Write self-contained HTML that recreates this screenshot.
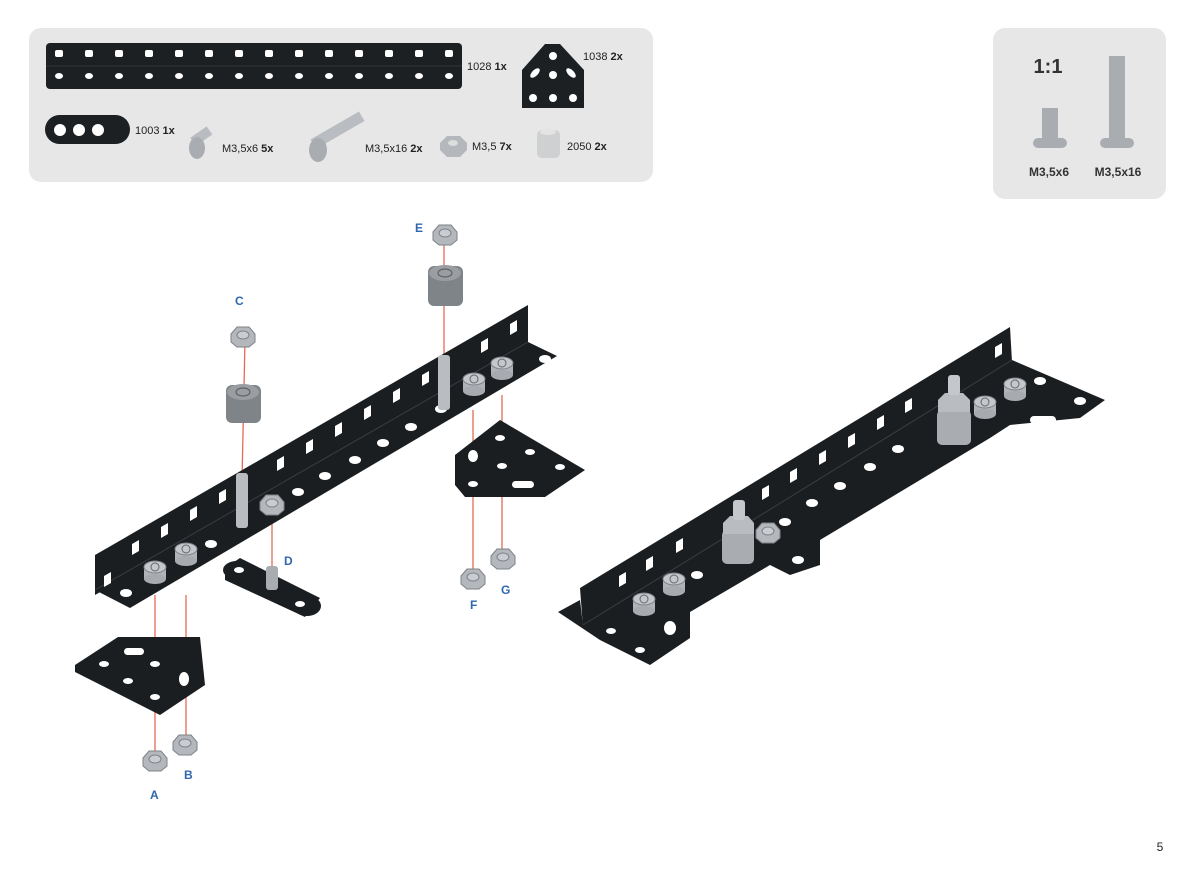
<!DOCTYPE html>
<html><head><meta charset="utf-8"><style>
body{margin:0;background:#fff;}
svg{display:block;font-family:"Liberation Sans",sans-serif;}
</style></head><body>
<svg width="1200" height="888" viewBox="0 0 1200 888" xmlns="http://www.w3.org/2000/svg">
<defs>
<g id="nut"><polygon points="-12,-4 -6,-11 6,-11 12,-4 12,4 6,9 -6,9 -12,4" fill="#b4b8bd" stroke="#7d8288" stroke-width="1"/><ellipse cx="0" cy="-3" rx="6" ry="4" fill="#c9ccd0" stroke="#7d8288"/></g>
<g id="bolt"><rect x="-11" y="-6" width="22" height="12" fill="#b0b4b9"/><ellipse cx="0" cy="6" rx="11" ry="5" fill="#a7abb0"/><ellipse cx="0" cy="-6" rx="11" ry="6" fill="#c4c7cb" stroke="#7d8288"/><circle cx="0" cy="-6" r="4" fill="none" stroke="#666"/></g>
<polygon id="slot" points="0,4 7,0 7,11 0,15" fill="#fff"/>
</defs>
<!-- parts box -->
<rect x="29" y="28" width="624" height="154" rx="12" fill="#e8e7e8"/>
<rect x="46" y="43" width="416" height="46" rx="4" fill="#1d2023"/>
<line x1="46" y1="66" x2="462" y2="66" stroke="#333" stroke-width="1"/>
<g fill="#fff">
<rect x="55" y="50" width="8" height="7" rx="2"/><rect x="85" y="50" width="8" height="7" rx="2"/><rect x="115" y="50" width="8" height="7" rx="2"/><rect x="145" y="50" width="8" height="7" rx="2"/><rect x="175" y="50" width="8" height="7" rx="2"/><rect x="205" y="50" width="8" height="7" rx="2"/><rect x="235" y="50" width="8" height="7" rx="2"/><rect x="265" y="50" width="8" height="7" rx="2"/><rect x="295" y="50" width="8" height="7" rx="2"/><rect x="325" y="50" width="8" height="7" rx="2"/><rect x="355" y="50" width="8" height="7" rx="2"/><rect x="385" y="50" width="8" height="7" rx="2"/><rect x="415" y="50" width="8" height="7" rx="2"/><rect x="445" y="50" width="8" height="7" rx="2"/>
<ellipse cx="59" cy="76" rx="4" ry="3"/><ellipse cx="89" cy="76" rx="4" ry="3"/><ellipse cx="119" cy="76" rx="4" ry="3"/><ellipse cx="149" cy="76" rx="4" ry="3"/><ellipse cx="179" cy="76" rx="4" ry="3"/><ellipse cx="209" cy="76" rx="4" ry="3"/><ellipse cx="239" cy="76" rx="4" ry="3"/><ellipse cx="269" cy="76" rx="4" ry="3"/><ellipse cx="299" cy="76" rx="4" ry="3"/><ellipse cx="329" cy="76" rx="4" ry="3"/><ellipse cx="359" cy="76" rx="4" ry="3"/><ellipse cx="389" cy="76" rx="4" ry="3"/><ellipse cx="419" cy="76" rx="4" ry="3"/><ellipse cx="449" cy="76" rx="4" ry="3"/>
</g>
<text x="467" y="70" font-size="11" fill="#222">1028 <tspan font-weight="bold">1x</tspan></text>
<polygon points="522,70 545,44 560,44 584,70 584,108 522,108" fill="#1d2023"/>
<g fill="#fff"><circle cx="553" cy="56" r="4"/><circle cx="553" cy="75" r="4"/><circle cx="533" cy="98" r="4"/><circle cx="553" cy="98" r="4"/><circle cx="573" cy="98" r="4"/><ellipse cx="535" cy="73" rx="6" ry="3" transform="rotate(-45 535 73)"/><ellipse cx="571" cy="73" rx="6" ry="3" transform="rotate(45 571 73)"/></g>
<text x="583" y="60" font-size="11" fill="#222">1038 <tspan font-weight="bold">2x</tspan></text>
<rect x="45" y="115" width="85" height="29" rx="14.5" fill="#1d2023"/>
<g fill="#fff"><circle cx="60" cy="130" r="6"/><circle cx="79" cy="130" r="6"/><circle cx="98" cy="130" r="6"/></g>
<text x="135" y="134" font-size="11" fill="#222">1003 <tspan font-weight="bold">1x</tspan></text>
<rect x="196" y="136" width="20" height="10" fill="#b9bdc2" transform="rotate(-35 196 146)"/><ellipse cx="197" cy="148" rx="8" ry="11" fill="#a9adb2"/>
<text x="222" y="152" font-size="11" fill="#222">M3,5x6 <tspan font-weight="bold">5x</tspan></text>
<rect x="316" y="138" width="56" height="11" fill="#b9bdc2" transform="rotate(-30 316 149)"/><ellipse cx="318" cy="150" rx="9" ry="12" fill="#a9adb2"/>
<text x="365" y="152" font-size="11" fill="#222">M3,5x16 <tspan font-weight="bold">2x</tspan></text>
<polygon points="440,143 447,136 460,136 467,143 467,150 460,157 447,157 440,150" fill="#b4b8bd"/><ellipse cx="453" cy="143" rx="5" ry="3" fill="#ddd"/>
<text x="472" y="150" font-size="11" fill="#222">M3,5 <tspan font-weight="bold">7x</tspan></text>
<rect x="537" y="130" width="23" height="28" rx="5" fill="#cfd0d1"/><ellipse cx="548" cy="132" rx="8" ry="3" fill="#e3e3e3"/>
<text x="567" y="150" font-size="11" fill="#222">2050 <tspan font-weight="bold">2x</tspan></text>
<!-- 1:1 box -->
<rect x="993" y="28" width="173" height="171" rx="12" fill="#e8e7e8"/>
<text x="1048" y="73" font-size="20" font-weight="bold" fill="#333" text-anchor="middle">1:1</text>
<rect x="1042" y="108" width="16" height="30" fill="#a9adb2"/><rect x="1033" y="138" width="34" height="10" rx="5" fill="#a9adb2"/>
<rect x="1109" y="56" width="16" height="82" fill="#a9adb2"/><rect x="1100" y="138" width="34" height="10" rx="5" fill="#a9adb2"/>
<text x="1049" y="176" font-size="12" font-weight="bold" fill="#333" text-anchor="middle">M3,5x6</text>
<text x="1118" y="176" font-size="12" font-weight="bold" fill="#333" text-anchor="middle">M3,5x16</text>

<!-- left assembly -->
<g stroke="#e36b56" stroke-width="1.3">
<line x1="245" y1="340" x2="242" y2="480"/><line x1="444" y1="244" x2="444" y2="355"/>
<line x1="272" y1="520" x2="272" y2="568"/>
<line x1="155" y1="595" x2="155" y2="760"/><line x1="186" y1="595" x2="186" y2="745"/>
<line x1="473" y1="410" x2="473" y2="578"/><line x1="502" y1="395" x2="502" y2="557"/>
</g>
<polygon points="95,555 528,305 528,345 95,595" fill="#1b1e21"/>
<polygon points="95,590 528,342 557,356 130,608" fill="#1b1e21"/>
<line x1="95" y1="590" x2="528" y2="342" stroke="#3a3d40"/>
<use href="#slot" x="104" y="572"/><use href="#slot" x="132" y="540"/><use href="#slot" x="161" y="523"/><use href="#slot" x="190" y="506"/><use href="#slot" x="219" y="489"/><use href="#slot" x="277" y="456"/><use href="#slot" x="306" y="439"/><use href="#slot" x="335" y="422"/><use href="#slot" x="364" y="405"/><use href="#slot" x="393" y="388"/><use href="#slot" x="422" y="371"/><use href="#slot" x="481" y="338"/><use href="#slot" x="510" y="320"/>
<g fill="#fff">
<ellipse cx="126" cy="593" rx="6" ry="4"/><ellipse cx="211" cy="544" rx="6" ry="4"/><ellipse cx="298" cy="492" rx="6" ry="4"/><ellipse cx="325" cy="476" rx="6" ry="4"/><ellipse cx="355" cy="460" rx="6" ry="4"/><ellipse cx="383" cy="443" rx="6" ry="4"/><ellipse cx="411" cy="427" rx="6" ry="4"/><ellipse cx="441" cy="409" rx="6" ry="4"/><ellipse cx="545" cy="359" rx="6" ry="4"/>
</g>
<rect x="236" y="473" width="12" height="55" rx="3" fill="#b9bdc2"/>
<rect x="438" y="355" width="12" height="55" rx="3" fill="#b9bdc2"/>
<use href="#nut" x="272" y="506"/>
<use href="#bolt" x="155" y="573"/><use href="#bolt" x="186" y="555"/>
<use href="#bolt" x="474" y="385"/><use href="#bolt" x="502" y="369"/>
<!-- 1003 plate D -->
<polygon points="225,568 240,558 320,598 305,617 225,580" fill="#1b1e21"/>
<ellipse cx="237" cy="570" rx="14" ry="9" fill="#1b1e21"/><ellipse cx="307" cy="606" rx="14" ry="10" fill="#1b1e21"/>
<ellipse cx="239" cy="570" rx="5" ry="3" fill="#fff"/><ellipse cx="300" cy="604" rx="5" ry="3" fill="#fff"/>
<rect x="266" y="566" width="12" height="24" rx="3" fill="#a9adb2"/>
<!-- spacers -->
<rect x="226" y="385" width="35" height="38" rx="6" fill="#7f8489"/><ellipse cx="243" cy="392" rx="16" ry="8" fill="#9a9ea3"/><ellipse cx="243" cy="392" rx="7" ry="4" fill="none" stroke="#555"/>
<rect x="428" y="266" width="35" height="40" rx="6" fill="#7f8489"/><ellipse cx="445" cy="273" rx="16" ry="8" fill="#9a9ea3"/><ellipse cx="445" cy="273" rx="7" ry="4" fill="none" stroke="#555"/>
<use href="#nut" x="243" y="338"/><use href="#nut" x="445" y="236"/>
<!-- triangle plates -->
<polygon points="455,455 500,420 585,470 545,497 465,497 455,485" fill="#1b1e21"/>
<g fill="#fff"><ellipse cx="473" cy="456" rx="5" ry="6"/><ellipse cx="500" cy="438" rx="5" ry="3"/><ellipse cx="530" cy="452" rx="5" ry="3"/><ellipse cx="560" cy="467" rx="5" ry="3"/><ellipse cx="502" cy="466" rx="5" ry="3"/><ellipse cx="473" cy="484" rx="5" ry="3"/><rect x="512" y="481" width="22" height="7" rx="3.5"/></g>
<polygon points="75,665 118,637 200,637 205,685 160,715 75,672" fill="#1b1e21"/>
<g fill="#fff"><rect x="124" y="648" width="20" height="7" rx="3.5"/><ellipse cx="155" cy="664" rx="5" ry="3"/><ellipse cx="104" cy="664" rx="5" ry="3"/><ellipse cx="128" cy="681" rx="5" ry="3"/><ellipse cx="155" cy="697" rx="5" ry="3"/><ellipse cx="184" cy="679" rx="5" ry="7"/></g>
<use href="#nut" x="155" y="762"/><use href="#nut" x="185" y="746"/>
<use href="#nut" x="473" y="580"/><use href="#nut" x="503" y="560"/>
<g font-size="12" font-weight="bold" fill="#2f68ad">
<text x="415" y="232">E</text><text x="235" y="305">C</text><text x="284" y="565">D</text><text x="470" y="609">F</text><text x="501" y="594">G</text><text x="150" y="799">A</text><text x="184" y="779">B</text>
</g>
<!-- right assembly -->
<polygon points="580,588 1010,327 1012,362 583,628" fill="#1b1e21"/>
<polygon points="558,612 580,600 583,625 1012,360 1105,400 1080,418 1010,425 990,438 820,540 820,565 790,575 770,565 690,612 690,638 650,665 600,640" fill="#1b1e21"/>
<line x1="583" y1="625" x2="1012" y2="360" stroke="#3a3d40"/>
<use href="#slot" x="619" y="572"/><use href="#slot" x="646" y="556"/><use href="#slot" x="676" y="538"/><use href="#slot" x="762" y="485"/><use href="#slot" x="790" y="468"/><use href="#slot" x="819" y="450"/><use href="#slot" x="848" y="433"/><use href="#slot" x="877" y="415"/><use href="#slot" x="905" y="398"/><use href="#slot" x="995" y="343"/>
<g fill="#fff">
<ellipse cx="611" cy="631" rx="5" ry="3"/><ellipse cx="670" cy="628" rx="6" ry="7"/><ellipse cx="640" cy="650" rx="5" ry="3"/><ellipse cx="697" cy="575" rx="6" ry="4"/><ellipse cx="785" cy="522" rx="6" ry="4"/><ellipse cx="812" cy="503" rx="6" ry="4"/><ellipse cx="840" cy="486" rx="6" ry="4"/><ellipse cx="870" cy="467" rx="6" ry="4"/><ellipse cx="898" cy="449" rx="6" ry="4"/><ellipse cx="798" cy="560" rx="6" ry="4"/><ellipse cx="1040" cy="381" rx="6" ry="4"/><ellipse cx="1080" cy="401" rx="6" ry="4"/><rect x="1030" y="416" width="26" height="8" rx="4"/>
</g>
<use href="#bolt" x="644" y="605"/><use href="#bolt" x="674" y="585"/>
<use href="#bolt" x="985" y="408"/><use href="#bolt" x="1015" y="390"/>
<rect x="722" y="530" width="32" height="34" rx="5" fill="#a9adb2"/><polygon points="723,523 730,516 748,516 754,523 754,534 723,534" fill="#b9bdc2"/><rect x="733" y="500" width="12" height="20" rx="3" fill="#c4c7cb"/>
<use href="#nut" x="768" y="534"/>
<rect x="937" y="410" width="34" height="35" rx="5" fill="#a9adb2"/><polygon points="938,400 945,393 963,393 970,400 970,412 938,412" fill="#b9bdc2"/><rect x="948" y="375" width="12" height="20" rx="3" fill="#c4c7cb"/>
<text x="1160" y="851" font-size="12" fill="#222" text-anchor="middle">5</text>
</svg>
</body></html>
